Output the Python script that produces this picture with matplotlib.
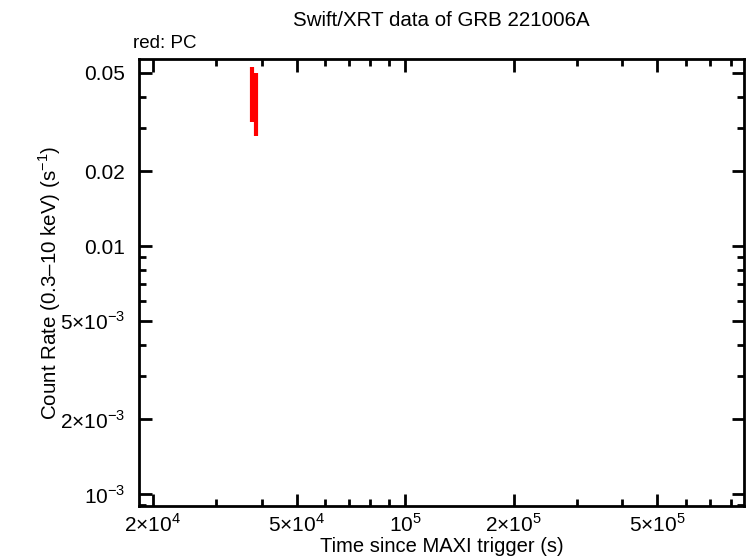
import matplotlib
matplotlib.use("Agg")
import matplotlib.pyplot as plt
import numpy as np
from matplotlib.ticker import FixedLocator, NullFormatter

plt.rcParams['font.family'] = ['Liberation Sans', 'DejaVu Sans']
plt.rcParams['mathtext.fontset'] = 'custom'
plt.rcParams['mathtext.rm'] = 'Liberation Sans'

# PC mode data
t = [3.77e4, 3.86e4]
t_lo = [3.72e4, 3.81e4]
t_hi = [3.81e4, 3.90e4]
rate = [0.0422, 0.0381]
rate_lo = [0.0316, 0.0278]
rate_hi = [0.0527, 0.0499]

xticks = [2e4, 5e4, 1e5, 2e5, 5e5]
xlabels = [r'2$\times$10$^4$', r'5$\times$10$^4$', r'10$^5$', r'2$\times$10$^5$', r'5$\times$10$^5$']
yticks = [1e-3, 2e-3, 5e-3, 0.01, 0.02, 0.05]
ylabels = [r'10$^{-3}$', r'2$\times$10$^{-3}$', r'5$\times$10$^{-3}$', '0.01', '0.02', '0.05']

fig = plt.figure(figsize=(7.46, 5.58), dpi=100)
ax = fig.add_axes([0.1863, 0.0932, 0.811, 0.8011])

t = np.array(t); rate = np.array(rate)
xerr = [t - np.array(t_lo), np.array(t_hi) - t]
yerr = [rate - np.array(rate_lo), np.array(rate_hi) - rate]
ax.errorbar(t, rate, xerr=xerr, yerr=yerr, fmt='none', ecolor='red', elinewidth=3, capsize=0)

ax.set_xscale('log')
ax.set_yscale('log')
ax.set_xlim(1.83e4, 8.69e5)
ax.set_ylim(8.95e-4, 0.0568)

ax.xaxis.set_major_locator(FixedLocator(xticks))
ax.xaxis.set_ticklabels(xlabels)
ax.yaxis.set_major_locator(FixedLocator(yticks))
ax.yaxis.set_ticklabels(ylabels)
minx = [m * 10**e for e in range(4, 6) for m in range(1, 10)]
miny = [m * 10.0**e for e in range(-4, -1) for m in range(1, 10)]
ax.xaxis.set_minor_locator(FixedLocator(minx))
ax.yaxis.set_minor_locator(FixedLocator(miny))
ax.xaxis.set_minor_formatter(NullFormatter())
ax.yaxis.set_minor_formatter(NullFormatter())

ax.tick_params(which='both', direction='in', top=True, right=True, labelsize=15, width=2)
ax.tick_params(which='major', length=9)
ax.tick_params(which='minor', length=5)
ax.tick_params(axis='y', pad=10)
ax.tick_params(axis='x', pad=5)
for s in ax.spines.values():
    s.set_linewidth(2)

ax.set_xlabel('Time since MAXI trigger (s)', fontsize=14.5, labelpad=1)
ax.set_ylabel('Count Rate (0.3\u201310 keV) (s$^{-1}$)', fontsize=14.8, labelpad=-2)
ax.set_title('Swift/XRT data of GRB 221006A', fontsize=14.8, pad=24)
ax.text(-0.01, 1.015, 'red: PC', transform=ax.transAxes, fontsize=13.5, ha='left', va='bottom')

fig.savefig('out.png', dpi=100)
